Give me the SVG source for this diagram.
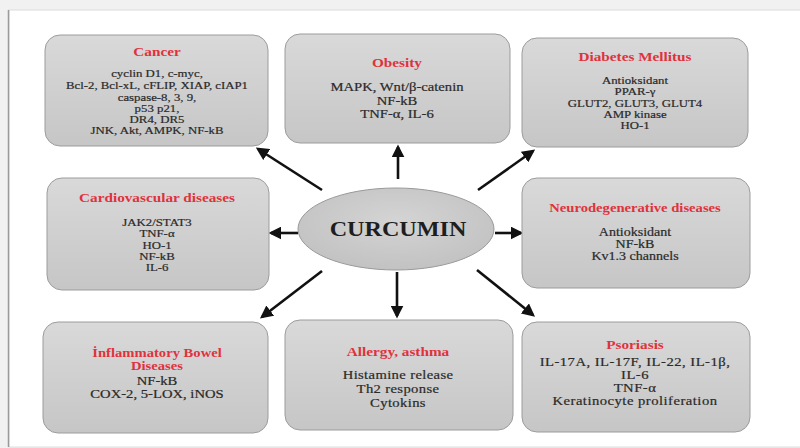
<svg xmlns="http://www.w3.org/2000/svg" width="800" height="448" viewBox="0 0 800 448">
<defs>
<linearGradient id="boxg" x1="0" y1="0" x2="0" y2="1">
<stop offset="0" stop-color="#d9d9d9"/>
<stop offset="1" stop-color="#c6c6c6"/>
</linearGradient>
<radialGradient id="ellg" cx="0.5" cy="0.4" r="0.6">
<stop offset="0" stop-color="#d4d4d4"/>
<stop offset="1" stop-color="#c2c2c2"/>
</radialGradient>
<marker id="ah" markerWidth="5" markerHeight="5" refX="4" refY="2.5" orient="auto" markerUnits="strokeWidth">
<path d="M0,0 L5,2.5 L0,5 Z" fill="#111"/>
</marker>
</defs>
<style>
.box{fill:url(#boxg);stroke:#9c9c9c;stroke-width:1}
.t{font-family:"Liberation Serif","Times New Roman",serif;font-weight:bold;fill:#e0323c;text-anchor:middle;font-size:12.5px}
.b{font-family:"Liberation Serif","Times New Roman",serif;fill:#2a2a2a;text-anchor:middle;stroke:#2a2a2a;stroke-width:0.2}
.arr{stroke:#111;stroke-width:2.6;fill:none;marker-end:url(#ah)}
</style>
<rect x="0" y="0" width="800" height="448" fill="#f1f1f1"/>
<rect x="9" y="10" width="795" height="437" fill="#ffffff" stroke="#dcdcdc" stroke-width="1"/>
<line x1="8.5" y1="10" x2="8.5" y2="447" stroke="#9a9a9a" stroke-width="1.5"/>

<g id="connectors">
<line class="arr" x1="322" y1="190" x2="258" y2="149"/>
<line class="arr" x1="398" y1="179" x2="398" y2="147"/>
<line class="arr" x1="478" y1="190" x2="533" y2="151"/>
<line class="arr" x1="298" y1="233" x2="271" y2="233"/>
<line class="arr" x1="495" y1="233" x2="521" y2="233"/>
<line class="arr" x1="322" y1="271" x2="262" y2="317"/>
<line class="arr" x1="397" y1="272" x2="397" y2="316"/>
<line class="arr" x1="477" y1="270" x2="533" y2="315"/>
</g>

<g id="curcumin">
<ellipse cx="396" cy="229" rx="98" ry="41" fill="url(#ellg)" stroke="#9a9a9a" stroke-width="1"/>
<g transform="translate(398 0) scale(1.15 1)">
<text x="0" y="236" style="font-family:'Liberation Serif','Times New Roman',serif;font-weight:bold;font-size:21px;fill:#1e1e1e;text-anchor:middle">CURCUMIN</text>
</g>
</g>

<g id="cancer">
<rect class="box" x="45" y="35" width="223" height="111" rx="15"/>
<g transform="translate(157 0) scale(1.22 1)">
<text class="t" x="0" y="56">Cancer</text>
<text class="b" x="0" style="font-size:10.5px"><tspan x="0" y="77">cyclin D1, c-myc,</tspan><tspan x="0" y="89">Bcl-2, Bcl-xL, cFLIP, XIAP, cIAP1</tspan><tspan x="0" y="101">caspase-8, 3, 9,</tspan><tspan x="0" y="112">p53 p21,</tspan><tspan x="0" y="123">DR4, DR5</tspan><tspan x="0" y="134">JNK, Akt, AMPK, NF-kB</tspan></text>
</g>
</g>

<g id="obesity">
<rect class="box" x="285" y="34" width="225" height="109" rx="15"/>
<g transform="translate(397 0) scale(1.22 1)">
<text class="t" x="0" y="67">Obesity</text>
<text class="b" style="font-size:12px"><tspan x="0" y="91">MAPK, Wnt/β-catenin</tspan><tspan x="0" y="105">NF-kB</tspan><tspan x="0" y="118">TNF-α, IL-6</tspan></text>
</g>
</g>

<g id="diabetes">
<rect class="box" x="522" y="38" width="226" height="109" rx="15"/>
<g transform="translate(635 0) scale(1.22 1)">
<text class="t" x="0" y="61">Diabetes Mellitus</text>
<text class="b" style="font-size:10.5px"><tspan x="0" y="84">Antioksidant</tspan><tspan x="0" y="95">PPAR-γ</tspan><tspan x="0" y="107">GLUT2, GLUT3, GLUT4</tspan><tspan x="0" y="118">AMP kinase</tspan><tspan x="0" y="129">HO-1</tspan></text>
</g>
</g>

<g id="cardiovascular">
<rect class="box" x="47" y="178" width="222" height="112" rx="15"/>
<g transform="translate(157 0) scale(1.22 1)">
<text class="t" x="0" y="202">Cardiovascular diseases</text>
<text class="b" style="font-size:10.5px"><tspan x="0" y="226">JAK2/STAT3</tspan><tspan x="0" y="237">TNF-α</tspan><tspan x="0" y="249">HO-1</tspan><tspan x="0" y="260">NF-kB</tspan><tspan x="0" y="271">IL-6</tspan></text>
</g>
</g>

<g id="neurodegenerative">
<rect class="box" x="522" y="178" width="228" height="110" rx="15"/>
<g transform="translate(635 0) scale(1.22 1)">
<text class="t" x="0" y="212" style="font-size:12px">Neurodegenerative diseases</text>
<text class="b" style="font-size:11.5px"><tspan x="0" y="236">Antioksidant</tspan><tspan x="0" y="248">NF-kB</tspan><tspan x="0" y="260">Kv1.3 channels</tspan></text>
</g>
</g>

<g id="ibd">
<rect class="box" x="43" y="322" width="225" height="111" rx="15"/>
<g transform="translate(157 0) scale(1.22 1)">
<text class="t" style="font-size:12px"><tspan x="0" y="357">İnflammatory Bowel</tspan><tspan x="0" y="370">Diseases</tspan></text>
<text class="b" style="font-size:12px"><tspan x="0" y="385">NF-kB</tspan><tspan x="0" y="398">COX-2, 5-LOX, iNOS</tspan></text>
</g>
</g>

<g id="allergy">
<rect class="box" x="285" y="320" width="228" height="110" rx="15"/>
<g transform="translate(398 0) scale(1.22 1)">
<text class="t" x="0" y="356">Allergy, asthma</text>
<text class="b" style="font-size:12px;letter-spacing:0.3px"><tspan x="0" y="379">Histamine release</tspan><tspan x="0" y="393">Th2 response</tspan><tspan x="0" y="407">Cytokins</tspan></text>
</g>
</g>

<g id="psoriasis">
<rect class="box" x="522" y="322" width="228" height="110" rx="15"/>
<g transform="translate(635 0) scale(1.22 1)">
<text class="t" x="0" y="349">Psoriasis</text>
<text class="b" style="font-size:12px;letter-spacing:0.4px"><tspan x="0" y="366">IL-17A, IL-17F, IL-22, IL-1β,</tspan><tspan x="0" y="379">IL-6</tspan><tspan x="0" y="392">TNF-α</tspan><tspan x="0" y="405">Keratinocyte proliferation</tspan></text>
</g>
</g>
</svg>
